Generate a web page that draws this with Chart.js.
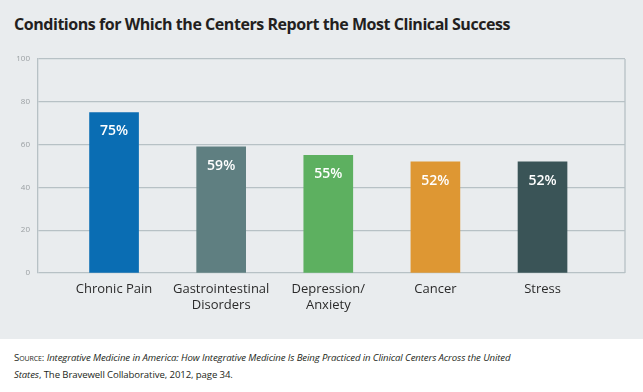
<!DOCTYPE html>
<html>
<head>
<meta charset="utf-8">
<script src="https://cdn.jsdelivr.net/npm/chart.js@4.4.0/dist/chart.umd.min.js"></script>
<style>
  body { margin: 0; width: 643px; height: 392px; background: #ffffff; position: relative; overflow: hidden; font-family: "Open Sans", sans-serif; }
  .panel { position: absolute; left: 0; top: 0; width: 643px; height: 339px; background: #e9ecee; }
  .title { position: absolute; left: 14px; top: 13px; font-size: 16px; font-weight: 700; color: #231f20; letter-spacing: -0.45px; white-space: nowrap; }
  .chart-box { position: absolute; left: 0; top: 45px; width: 643px; height: 285px; }
  .source { position: absolute; left: 14px; top: 349px; font-size: 9.6px; line-height: 17px; color: #231f20; letter-spacing: -0.1px; }
  .source .sc { font-variant: small-caps; }
</style>
</head>
<body>
<div class="panel"></div>
<div class="title">Conditions for Which the Centers Report the Most Clinical Success</div>
<div class="chart-box"><canvas id="myChart"></canvas></div>
<div class="source"><span class="sc">Source</span>: <i>Integrative Medicine in America: How Integrative Medicine Is Being Practiced in Clinical Centers Across the United</i><br><i>States</i>, The Bravewell Collaborative, 2012, page 34.</div>
<script>
const categories = [["Chronic Pain"], ["Gastrointestinal", "Disorders"], ["Depression/", "Anxiety"], ["Cancer"], ["Stress"]];
const successValues = [75, 59, 55, 52, 52];
const barColors = ["#0a6db3", "#5f7f81", "#5db060", "#de9733", "#3a5457"];
const yTicks = [0, 20, 40, 60, 80, 100];

const gridColor = "#b7c1c5";

// white % labels inside the bars + right frame line
const extras = {
  id: "extras",
  afterDatasetsDraw(chart) {
    const ctx = chart.ctx;
    const area = chart.chartArea;
    ctx.save();
    ctx.strokeStyle = gridColor;
    ctx.lineWidth = 1.3;
    ctx.beginPath();
    ctx.moveTo(area.right, area.top);
    ctx.lineTo(area.right, area.bottom);
    ctx.stroke();

    const meta = chart.getDatasetMeta(0);
    ctx.fillStyle = "#ffffff";
    ctx.font = "600 14px 'Open Sans'";
    ctx.textAlign = "center";
    ctx.textBaseline = "middle";
    meta.data.forEach((bar, i) => {
      ctx.fillText(successValues[i] + "%", bar.x, bar.y + 19);
    });
    ctx.restore();
  }
};

const ctx = document.getElementById("myChart");
const myChart = new Chart(ctx, {
  type: "bar",
  data: {
    datasets: [
      {
        data: successValues.map((v, i) => ({ x: i, y: v })),
        backgroundColor: barColors,
        borderWidth: 0,
        barThickness: 49,
      },
    ],
  },
  options: {
    responsive: true,
    maintainAspectRatio: false,
    animation: false,
    layout: { padding: { top: 14, right: 18, left: 0, bottom: 0 } },
    plugins: {
      legend: { display: false },
      tooltip: { enabled: false },
    },
    scales: {
      x: {
        type: "linear",
        offset: false,
        min: -0.71,
        max: 4.77,
        grid: { display: false, drawTicks: false },
        border: { display: false },
        afterBuildTicks: (axis) => {
          axis.ticks = categories.map((c, i) => ({ value: i }));
        },
        afterFit: (axis) => {
          axis.height = 57;
        },
        ticks: {
          autoSkip: false,
          maxRotation: 0,
          padding: 9,
          color: "#2b2b2b",
          font: { family: "Open Sans", size: 13, lineHeight: 1.18 },
          callback: (value) => categories[value],
        },
      },
      y: {
        min: 0,
        max: 100,
        afterBuildTicks: (axis) => {
          axis.ticks = yTicks.map((v) => ({ value: v }));
        },
        afterFit: (axis) => {
          axis.width = 38;
        },
        grid: { color: gridColor, lineWidth: 1.3, drawTicks: false },
        border: { display: true, color: gridColor, width: 1.3 },
        ticks: {
          padding: 8,
          color: "#9a9fa2",
          font: { family: "Open Sans", size: 8 },
        },
      },
    },
  },
  plugins: [extras],
});
</script>
</body>
</html>
